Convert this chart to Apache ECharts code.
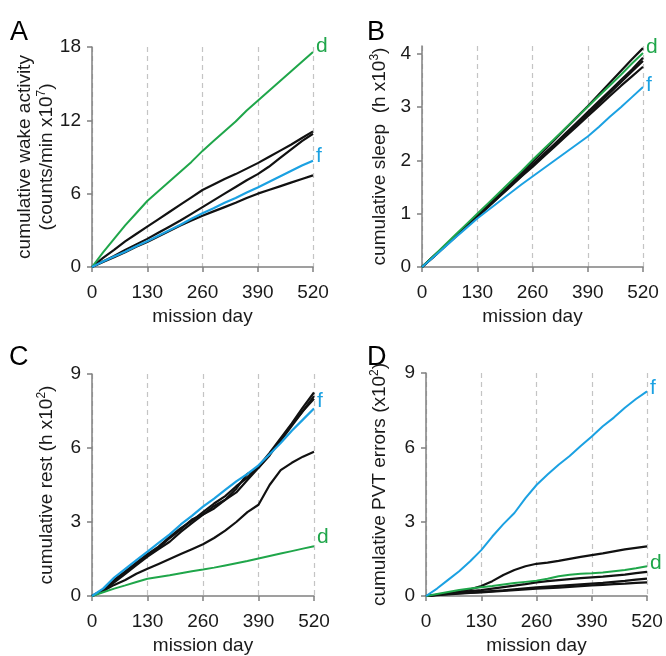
<!DOCTYPE html>
<html>
<head>
<meta charset="utf-8">
<script src="https://cdn.jsdelivr.net/npm/echarts@6/dist/echarts.min.js"></script>
<style>html,body{margin:0;padding:0;background:#fff}#c{width:666px;height:656px}</style>
</head>
<body>
<div id="c"></div>
<script>
// mission days (every 26 days)
var days = [0,26,52,78,104,130,156,182,208,234,260,286,312,338,364,390,416,442,468,494,520];
var xTicks = [0,130,260,390,520];

// Panel A: cumulative wake activity (counts/min x10^7)
var aBlack1 = [0,0.75,1.4,2.1,2.7,3.3,3.9,4.5,5.1,5.7,6.3,6.75,7.2,7.6,8.05,8.5,9.0,9.5,10.0,10.55,11.1];
var aBlack2 = [0,0.45,0.9,1.4,1.85,2.3,2.8,3.3,3.8,4.35,4.9,5.45,6.0,6.55,7.1,7.6,8.2,8.9,9.6,10.3,10.9];
var aBlack3 = [0,0.4,0.8,1.2,1.65,2.05,2.5,2.95,3.4,3.8,4.2,4.55,4.9,5.25,5.65,6.0,6.3,6.6,6.9,7.2,7.5];
var aGreen  = [0,1.2,2.3,3.4,4.4,5.4,6.2,7.0,7.8,8.6,9.5,10.3,11.1,11.9,12.8,13.6,14.4,15.2,16.0,16.8,17.6];
var aBlue   = [0,0.45,0.85,1.25,1.7,2.1,2.55,3.0,3.45,3.95,4.4,4.8,5.25,5.65,6.1,6.5,6.95,7.4,7.85,8.3,8.7];

// Panel B: cumulative sleep (h x10^3)
var bBlack1 = [0,0.19,0.38,0.57,0.76,0.96,1.16,1.36,1.56,1.76,1.97,2.18,2.39,2.6,2.81,3.02,3.24,3.46,3.68,3.9,4.11];
var bBlack2 = [0,0.19,0.38,0.57,0.76,0.95,1.14,1.33,1.52,1.71,1.91,2.11,2.31,2.51,2.71,2.91,3.11,3.31,3.51,3.71,3.93];
var bBlack3 = [0,0.18,0.37,0.56,0.75,0.94,1.13,1.32,1.51,1.7,1.88,2.07,2.26,2.45,2.64,2.83,3.02,3.21,3.4,3.58,3.76];
var bBlack4 = [0,0.19,0.38,0.57,0.77,0.97,1.16,1.35,1.54,1.73,1.92,2.11,2.3,2.49,2.68,2.87,3.07,3.27,3.47,3.67,3.87];
var bGreen  = [0,0.2,0.4,0.6,0.8,1.0,1.2,1.4,1.6,1.8,2.01,2.21,2.41,2.61,2.81,3.01,3.21,3.41,3.61,3.82,4.02];
var bBlue   = [0,0.18,0.36,0.55,0.73,0.91,1.07,1.23,1.39,1.55,1.7,1.85,2.0,2.15,2.3,2.45,2.63,2.82,3.0,3.19,3.38];

// Panel C: cumulative rest (h x10^2)
var cBlack1 = [0,0.25,0.65,1.0,1.35,1.7,2.0,2.4,2.75,3.05,3.4,3.75,4.05,4.45,4.8,5.25,5.8,6.4,7.0,7.65,8.25];
var cBlack2 = [0,0.2,0.6,0.95,1.3,1.65,1.95,2.35,2.7,3.1,3.3,3.65,3.9,4.35,4.95,5.2,5.7,6.35,6.95,7.5,8.1];
var cBlack3 = [0,0.22,0.55,0.9,1.25,1.6,1.9,2.2,2.6,2.95,3.3,3.55,3.9,4.2,4.7,5.2,5.75,6.3,6.9,7.5,8.0];
var cBlack4 = [0,0.2,0.45,0.65,0.9,1.1,1.3,1.5,1.7,1.9,2.1,2.35,2.65,3.0,3.4,3.7,4.5,5.1,5.4,5.65,5.85];
var cGreen  = [0,0.15,0.3,0.43,0.57,0.7,0.77,0.84,0.92,1.0,1.07,1.15,1.24,1.33,1.42,1.52,1.62,1.72,1.82,1.92,2.02];
var cBlue   = [0,0.3,0.75,1.1,1.45,1.8,2.15,2.5,2.9,3.25,3.62,3.95,4.3,4.65,4.95,5.3,5.75,6.2,6.7,7.15,7.6];

// Panel D: cumulative PVT errors (x10^2)
var dBlack1 = [0,0.05,0.1,0.18,0.27,0.4,0.6,0.85,1.05,1.2,1.3,1.35,1.42,1.5,1.58,1.65,1.72,1.8,1.88,1.94,2.0];
var dBlack2 = [0,0.05,0.1,0.15,0.2,0.24,0.3,0.36,0.42,0.48,0.55,0.6,0.64,0.68,0.72,0.75,0.78,0.82,0.86,0.92,0.97];
var dBlack3 = [0,0.04,0.08,0.11,0.14,0.17,0.2,0.23,0.27,0.31,0.35,0.38,0.41,0.44,0.47,0.5,0.53,0.57,0.61,0.66,0.7];
var dBlack4 = [0,0.03,0.06,0.09,0.12,0.15,0.18,0.21,0.24,0.27,0.3,0.32,0.34,0.37,0.4,0.43,0.45,0.48,0.5,0.53,0.55];
var dGreen  = [0,0.08,0.16,0.24,0.3,0.35,0.4,0.46,0.52,0.57,0.62,0.7,0.8,0.86,0.9,0.92,0.95,1.0,1.05,1.12,1.2];
var dBlue   = [0,0.3,0.65,1.0,1.4,1.85,2.4,2.9,3.35,3.95,4.48,4.9,5.3,5.65,6.05,6.44,6.85,7.2,7.6,7.95,8.26];

var FONT = 'Liberation Sans, Arial, sans-serif';
var TXT = '#1a1a1a';
var GREEN = '#1fa64a';
var BLUE = '#1ba1e2';
var BLACK = '#111111';

function pairs(v){ return days.map(function(d,i){ return [d, v[i]]; }); }

var grids = [
  {left:92, top:47, width:221, height:220},
  {left:422, top:46, width:221, height:221},
  {left:92, top:374, width:222, height:222},
  {left:426, top:373, width:221, height:223}
];

var yDefs = [
  {max:18, ticks:[0,6,12,18], name:'cumulative wake activity\n(counts/min x10{s|7})', gap:34},
  {max:4.15, ticks:[0,1,2,3,4], name:'cumulative sleep  (h x10{s|3})', gap:31},
  {max:9, ticks:[0,3,6,9], name:'cumulative rest (h x10{s|2})', gap:34},
  {max:9, ticks:[0,3,6,9], name:'cumulative PVT errors (x10{s|2})', gap:35}
];

var xAxes = grids.map(function(g,i){
  return {
    type:'value', gridIndex:i, min:0, max:520, interval:130,
    name:'mission day', nameLocation:'middle', nameGap:40, nameMoveOverlap:false,
    nameTextStyle:{fontSize:19, color:TXT, fontFamily:FONT},
    axisLine:{show:true, lineStyle:{color:'#808080', width:1.5}},
    axisTick:{show:true, length:5, lineStyle:{color:'#808080', width:1.5}},
    axisLabel:{fontSize:19, color:TXT, fontFamily:FONT, margin:16},
    splitLine:{show:true, lineStyle:{color:'#c4c4c4', type:[5,4], width:1.2}}
  };
});

var yAxes = yDefs.map(function(y,i){
  return {
    type:'value', gridIndex:i, min:0, max:y.max,
    name:y.name, nameLocation:'middle', nameGap:y.gap, nameRotate:90, nameMoveOverlap:false,
    nameTextStyle:{fontSize:19, color:TXT, fontFamily:FONT, lineHeight:22,
      rich:{s:{fontSize:12, verticalAlign:'top', color:TXT, fontFamily:FONT, lineHeight:12}}},
    axisLine:{show:true, lineStyle:{color:'#808080', width:1.5}},
    axisTick:{show:true, length:5, customValues:y.ticks, lineStyle:{color:'#808080', width:1.5}},
    axisLabel:{fontSize:19, color:TXT, fontFamily:FONT, margin:11, customValues:y.ticks},
    splitLine:{show:false}
  };
});

function line(i, data, color, width, label, off){
  var s = {
    type:'line', xAxisIndex:i, yAxisIndex:i, data:pairs(data),
    showSymbol:false, symbol:'none', smooth:false,
    lineStyle:{color:color, width:width}, silent:true, animation:false,
    z: color===BLACK ? 2 : 3
  };
  if(label){
    s.endLabel = {show:true, formatter:label, color:color, fontSize:21, fontFamily:FONT,
      distance:3, offset:off};
  }
  return s;
}

var series = [
  line(0,aBlack1,BLACK,2.2), line(0,aBlack2,BLACK,2.2), line(0,aBlack3,BLACK,2.2),
  line(0,aGreen,GREEN,2,'d',[0,-6]), line(0,aBlue,BLUE,2.2,'f',[0,-4]),
  line(1,bBlack1,BLACK,2.2), line(1,bBlack2,BLACK,2.2), line(1,bBlack3,BLACK,2.2), line(1,bBlack4,BLACK,2.2),
  line(1,bGreen,GREEN,2,'d',[0,-6]), line(1,bBlue,BLUE,2,'f',[0,-2]),
  line(2,cBlack1,BLACK,2.2), line(2,cBlack2,BLACK,2.2), line(2,cBlack3,BLACK,2.2), line(2,cBlack4,BLACK,2.2),
  line(2,cGreen,GREEN,2,'d',[0,-9]), line(2,cBlue,BLUE,2.2,'f',[0,-7]),
  line(3,dBlack1,BLACK,2.2), line(3,dBlack2,BLACK,2.2), line(3,dBlack3,BLACK,2.2), line(3,dBlack4,BLACK,2.2),
  line(3,dGreen,GREEN,2,'d',[0,-3]), line(3,dBlue,BLUE,2,'f',[0,-3])
];

var letters = [['A',10,19],['B',367,19],['C',9,344],['D',367,344]];

var chart = echarts.init(document.getElementById('c'), null, {renderer:'canvas'});
chart.setOption({
  backgroundColor:'#ffffff',
  animation:false,
  grid:grids,
  xAxis:xAxes,
  yAxis:yAxes,
  series:series,
  graphic:letters.map(function(l){
    return {type:'text', left:l[1], top:l[2], style:{text:l[0], fontSize:27, fill:'#000', fontFamily:FONT}};
  })
});
</script>
</body>
</html>
